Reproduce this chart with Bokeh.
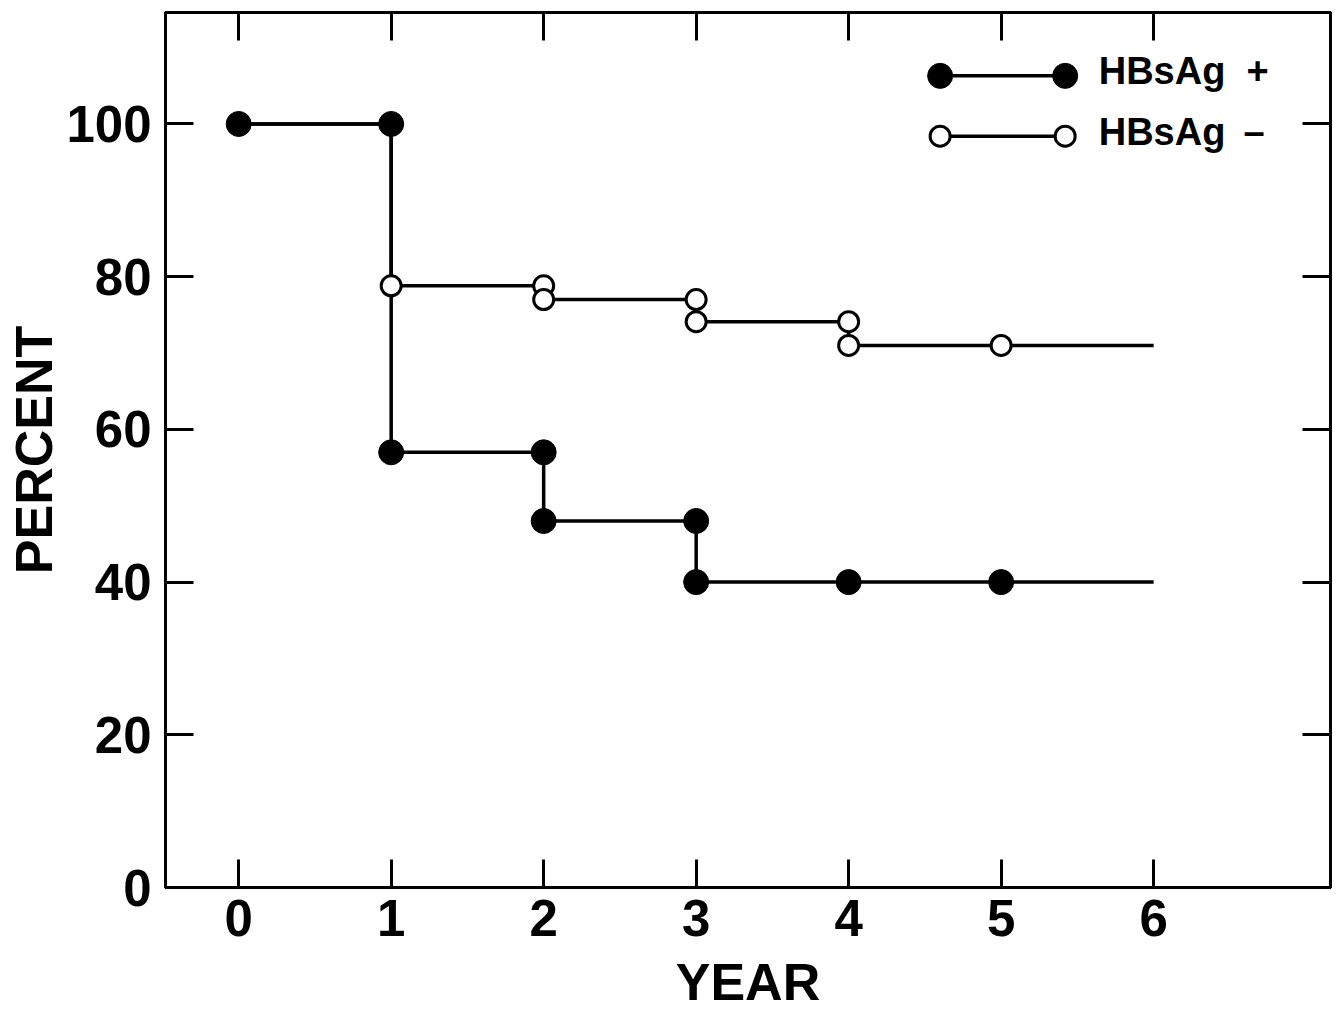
from bokeh.plotting import figure
from bokeh.models import Range1d, FixedTicker, LinearAxis, Label
from bokeh.embed import file_html
from bokeh.resources import INLINE

# ---- data ----
years = [0, 1, 2, 3, 4, 5, 6]
pos_step = [100, 57, 48, 40, 40, 40, 40]              # HBsAg + (step after)
neg_step = [100, 78.8, 77.0, 74.1, 71.0, 71.0, 71.0]  # HBsAg - (step after)
pos_pts_x = [0, 1, 1, 2, 2, 3, 3, 4, 5]
pos_pts_y = [100, 100, 57, 57, 48, 48, 40, 40, 40]
neg_pts_x = [1, 2, 2, 3, 3, 4, 4, 5]
neg_pts_y = [78.8, 78.8, 77.0, 77.0, 74.1, 74.1, 71.0, 71.0]
x_ticks = [0, 1, 2, 3, 4, 5, 6]
y_ticks = [0, 20, 40, 60, 80, 100]
labels = ["HBsAg\u00a0\u00a0+", "HBsAg\u00a0\u2009\u2013"]
x_title = "YEAR"
y_title = "PERCENT"

FONT = "Liberation Sans"

p = figure(width=1340, height=1013,
           x_range=Range1d(-0.48, 7.16), y_range=Range1d(0, 114.6),
           output_backend="svg", toolbar_location=None,
           min_border_left=165, min_border_right=10,
           min_border_top=12, min_border_bottom=126)
p.xgrid.visible = False
p.ygrid.visible = False
p.outline_line_color = "black"
p.outline_line_width = 3
p.background_fill_color = "white"
p.border_fill_color = "white"

def style_axis(ax, ticks, show_labels):
    ax.ticker = FixedTicker(ticks=ticks)
    ax.axis_line_color = "black"
    ax.axis_line_width = 3
    ax.major_tick_in = 28
    ax.major_tick_out = 0
    ax.major_tick_line_width = 3
    ax.major_tick_line_color = "black"
    ax.minor_tick_line_color = None
    ax.major_label_text_font = FONT
    if show_labels:
        ax.major_label_text_font_size = "51px"
        ax.major_label_text_font_style = "bold"
        ax.major_label_text_color = "black"
    else:
        ax.major_label_text_font_size = "0px"
        ax.major_label_text_color = None
        ax.major_label_standoff = 0

style_axis(p.xaxis[0], x_ticks, True)
style_axis(p.yaxis[0], y_ticks, True)
p.xaxis[0].major_label_standoff = 12
p.yaxis[0].major_label_standoff = 14
p.xaxis[0].axis_label = x_title
p.yaxis[0].axis_label = y_title
for ax in (p.xaxis[0], p.yaxis[0]):
    ax.axis_label_text_font = FONT
    ax.axis_label_text_font_size = "52px"
    ax.axis_label_text_font_style = "bold"
    ax.axis_label_text_color = "black"
p.xaxis[0].axis_label_standoff = 14
p.yaxis[0].axis_label_standoff = 0

top = LinearAxis()
style_axis(top, x_ticks, False)
p.add_layout(top, "above")
right = LinearAxis()
style_axis(right, y_ticks, False)
p.add_layout(right, "right")

LW = 3.5
p.step(years, neg_step, mode="after", line_color="black", line_width=LW)
p.step(years, pos_step, mode="after", line_color="black", line_width=LW)
p.scatter(pos_pts_x, pos_pts_y, marker="circle", size=25,
          fill_color="black", line_color="black", line_width=1)
p.scatter(neg_pts_x, neg_pts_y, marker="circle", size=20,
          fill_color="white", line_color="black", line_width=3)

# ---- legend (drawn by hand, top right) ----
leg_x = [4.6, 5.42]
leg_y = [106.3, 98.4]
p.line(leg_x, [leg_y[0]] * 2, line_color="black", line_width=LW)
p.scatter(leg_x, [leg_y[0]] * 2, marker="circle", size=25,
          fill_color="black", line_color="black")
p.line(leg_x, [leg_y[1]] * 2, line_color="black", line_width=LW)
p.scatter(leg_x, [leg_y[1]] * 2, marker="circle", size=20,
          fill_color="white", line_color="black", line_width=3)
for txt, yy in zip(labels, [106.9, 99.0]):
    p.add_layout(Label(x=5.64, y=yy, text=txt, text_font=FONT,
                       text_font_size="38px", text_font_style="bold",
                       text_color="black",
                       text_baseline="alphabetic", text_align="left"))

open("out.html", "w").write(file_html(p, INLINE))
